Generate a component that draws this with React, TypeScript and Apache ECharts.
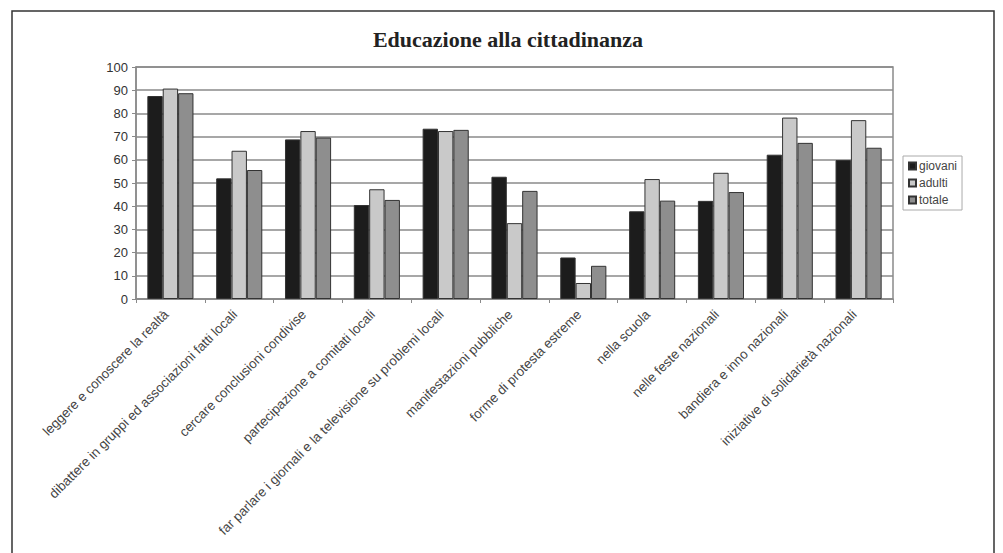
import React, { useEffect, useRef } from "react";
import * as echarts from "echarts";

const categories = [
  "leggere e conoscere la realtà",
  "dibattere in gruppi ed associazioni fatti locali",
  "cercare conclusioni condivise",
  "partecipazione a comitati locali",
  "far parlare i giornali e la televisione su problemi locali",
  "manifestazioni pubbliche",
  "forme di protesta estreme",
  "nella scuola",
  "nelle feste nazionali",
  "bandiera e inno nazionali",
  "iniziative di solidarietà nazionali",
];

const giovani = [87.5, 52.0, 68.8, 40.5, 73.4, 52.7, 17.9, 37.8, 42.3, 62.2, 59.9];
const adulti = [90.7, 63.9, 72.4, 47.3, 72.4, 32.7, 6.9, 51.7, 54.4, 78.2, 77.1];
const totale = [88.7, 55.6, 69.6, 42.7, 72.9, 46.6, 14.3, 42.4, 46.1, 67.3, 65.2];

const seriesNames = ["giovani", "adulti", "totale"];
const seriesColors = ["#1c1c1c", "#c9c9c9", "#8e8e8e"];

export default function App() {
  const ref = useRef<HTMLDivElement>(null);
  useEffect(() => {
    if (!ref.current) return;
    const chart = echarts.init(ref.current, null, { renderer: "svg" });
    const data = [giovani, adulti, totale];
    chart.setOption({
      animation: false,
      backgroundColor: "#ffffff",
      title: {
        text: "Educazione alla cittadinanza",
        left: 503,
        textAlign: "center",
        top: 23,
        textStyle: {
          fontFamily: "Liberation Serif, Times New Roman, serif",
          fontWeight: "bold",
          fontSize: 22,
          color: "#222",
        },
      },
      graphic: [
        {
          type: "rect",
          shape: { x: 12, y: 11, width: 982, height: 600 },
          style: { fill: "none", stroke: "#333", lineWidth: 1.5 },
          silent: true,
        },
      ],
      legend: {
        orient: "vertical",
        left: 903,
        top: 156,
        data: seriesNames,
        icon: "rect",
        itemWidth: 7,
        itemHeight: 7,
        itemGap: 5,
        padding: [4, 5, 4, 5],
        borderColor: "#aaa",
        borderWidth: 1,
        textStyle: {
          fontFamily: "Liberation Sans, Arial, sans-serif",
          fontSize: 12,
          color: "#444",
          padding: [0, 0, 0, -2],
        },
      },
      grid: {
        left: 136,
        right: 110,
        top: 67,
        bottom: 254,
        show: true,
        borderColor: "#8a8a8a",
        borderWidth: 1.5,
        containLabel: false,
      },
      xAxis: {
        type: "category",
        data: categories,
        axisLine: { lineStyle: { color: "#8a8a8a", width: 1.5 } },
        axisTick: { show: true, length: 4, lineStyle: { color: "#8a8a8a" } },
        axisLabel: {
          rotate: 45,
          interval: 0,
          margin: 9,
          padding: [0, 6, 0, 0],
          fontFamily: "Liberation Sans, Arial, sans-serif",
          fontSize: 13.3,
          color: "#444",
        },
      },
      yAxis: {
        type: "value",
        min: 0,
        max: 100,
        interval: 10,
        axisLine: { show: true, lineStyle: { color: "#8a8a8a", width: 1.5 } },
        axisTick: { show: true, length: 4, lineStyle: { color: "#8a8a8a" } },
        splitLine: { lineStyle: { color: "#8a8a8a", width: 1.5 } },
        axisLabel: {
          margin: 8,
          fontFamily: "Liberation Sans, Arial, sans-serif",
          fontSize: 13,
          color: "#333",
        },
      },
      series: seriesNames.map((name, i) => ({
        name,
        type: "bar",
        data: data[i],
        barGap: "0%",
        barCategoryGap: "33%",
        itemStyle: {
          color: seriesColors[i],
          borderColor: "#333",
          borderWidth: 1,
        },
      })),
    });
    return () => chart.dispose();
  }, []);
  return (
    <div
      ref={ref}
      style={{ position: "absolute", left: 0, top: 0, width: 1003, height: 553 }}
    />
  );
}
